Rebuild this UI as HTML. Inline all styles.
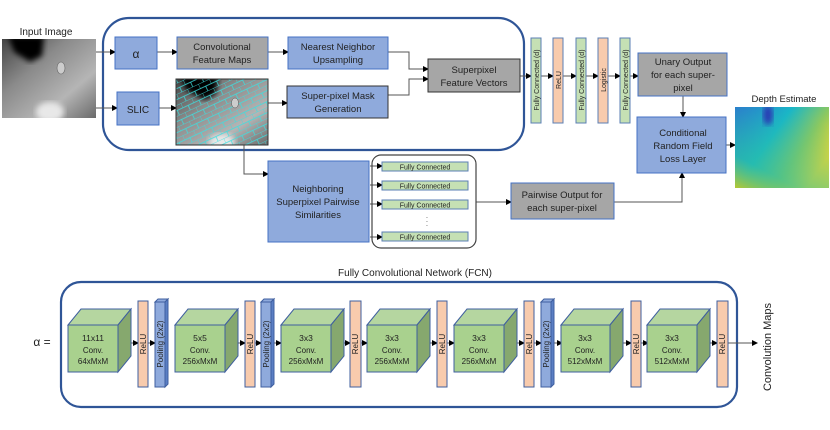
<!DOCTYPE html>
<html><head><meta charset="utf-8"><style>
html,body{margin:0;padding:0;background:#fff}
svg{display:block;font-family:"Liberation Sans",sans-serif}
</style></head><body>
<svg width="830" height="430" viewBox="0 0 830 430" xmlns="http://www.w3.org/2000/svg">
<defs>
<marker id="ah" markerWidth="6" markerHeight="6" refX="5" refY="3" orient="auto" markerUnits="userSpaceOnUse"><path d="M0,0 L6,3 L0,6z" fill="#000"/></marker>
<linearGradient id="gin" x1="0" y1="0" x2="1" y2="1"><stop offset="0" stop-color="#444"/><stop offset="0.35" stop-color="#8a8a8a"/><stop offset="0.7" stop-color="#b5b5b5"/><stop offset="1" stop-color="#6a6a6a"/></linearGradient>
<filter id="bl"><feGaussianBlur stdDeviation="3"/></filter>
<linearGradient id="gd" x1="0" y1="0" x2="1" y2="0.6"><stop offset="0" stop-color="#2a6cd8"/><stop offset="0.45" stop-color="#19b6c8"/><stop offset="0.75" stop-color="#8cc860"/><stop offset="1" stop-color="#f2d830"/></linearGradient>
<linearGradient id="gd2" x1="0" y1="1" x2="0.6" y2="0"><stop offset="0" stop-color="#b8c830"/><stop offset="0.3" stop-color="#2ec0a0" stop-opacity="0.6"/><stop offset="1" stop-color="#2ec0a0" stop-opacity="0"/></linearGradient>
<pattern id="sp" width="12" height="10" patternUnits="userSpaceOnUse" patternTransform="rotate(-25)"><path d="M0,0 H12 M0,0 V5 M6,5 V10 M0,5 H12" stroke="#3de0e0" stroke-width="0.7" fill="none"/></pattern>
<clipPath id="c1c"><rect x="2" y="39" width="94" height="79"/></clipPath>
<clipPath id="c2c"><rect x="176" y="79" width="92" height="66"/></clipPath>
<clipPath id="c3c"><rect x="735" y="107" width="94" height="81"/></clipPath>
</defs>

<!-- top group -->
<rect x="103" y="18" width="421" height="132" rx="26" fill="none" stroke="#2F5597" stroke-width="2.2"/>
<text x="46" y="35" font-size="10" text-anchor="middle" fill="#222">Input Image</text>
<g clip-path="url(#c1c)">
<rect x="2" y="39" width="94" height="79" fill="url(#gin)"/>
<path d="M8,36 L44,36 L42,56 L30,62 L14,52z" fill="#000" filter="url(#bl)"/>
<ellipse cx="50" cy="112" rx="14" ry="10" fill="#e8e8e8" filter="url(#bl)"/>
</g>
<ellipse cx="61" cy="68" rx="4" ry="6" fill="#ccc" stroke="#666" stroke-width="0.6"/>

<g stroke="#555" stroke-width="1" fill="none">
<line x1="96" y1="52" x2="115" y2="52" marker-end="url(#ah)"/>
<line x1="96" y1="108" x2="117" y2="108" marker-end="url(#ah)"/>
<line x1="157" y1="52" x2="177" y2="52" marker-end="url(#ah)"/>
<line x1="159" y1="108" x2="176" y2="108" marker-end="url(#ah)"/>
<line x1="268" y1="52" x2="288" y2="52" marker-end="url(#ah)"/>
<line x1="268" y1="103" x2="287" y2="103" marker-end="url(#ah)"/>
<polyline points="388,52 409,52 409,69 428,69" marker-end="url(#ah)"/>
<polyline points="388,95 409,95 409,79 428,79" marker-end="url(#ah)"/>
<line x1="520" y1="76" x2="531" y2="76" marker-end="url(#ah)"/>
<line x1="541" y1="76" x2="553" y2="76" marker-end="url(#ah)"/>
<line x1="563" y1="76" x2="576" y2="76" marker-end="url(#ah)"/>
<line x1="586" y1="76" x2="598" y2="76" marker-end="url(#ah)"/>
<line x1="608" y1="76" x2="620" y2="76" marker-end="url(#ah)"/>
<line x1="630" y1="76" x2="638" y2="76" marker-end="url(#ah)"/>
<line x1="683" y1="96" x2="683" y2="117" marker-end="url(#ah)"/>
<line x1="726" y1="145" x2="735" y2="145" marker-end="url(#ah)"/>
<polyline points="220,133 244,133 244,174 268,174" marker-end="url(#ah)"/>
<line x1="476" y1="202" x2="511" y2="202" marker-end="url(#ah)"/>
<polyline points="614,202 682,202 682,173" marker-end="url(#ah)"/>
<line x1="370" y1="166" x2="382" y2="166" marker-end="url(#ah)"/>
<line x1="370" y1="185" x2="382" y2="185" marker-end="url(#ah)"/>
<line x1="370" y1="204" x2="382" y2="204" marker-end="url(#ah)"/>
<line x1="370" y1="237" x2="382" y2="237" marker-end="url(#ah)"/>
</g>

<g font-size="9.5" text-anchor="middle" fill="#222">
<rect x="115" y="37" width="42" height="32" fill="#8FAADC" stroke="#4472C4"/>
<text x="136" y="58" font-size="12">α</text>
<rect x="177" y="37" width="91" height="32" fill="#A6A6A6" stroke="#4472C4"/>
<text x="222" y="50">Convolutional</text><text x="222" y="63">Feature Maps</text>
<rect x="288" y="37" width="100" height="32" fill="#8FAADC" stroke="#4472C4"/>
<text x="338" y="50">Nearest Neighbor</text><text x="338" y="63">Upsampling</text>
<rect x="117" y="92" width="42" height="33" fill="#8FAADC" stroke="#4472C4"/>
<text x="138" y="113" font-size="10">SLIC</text>
<rect x="287" y="86" width="101" height="32" fill="#8FAADC" stroke="#333"/>
<text x="338" y="99">Super-pixel Mask</text><text x="338" y="112">Generation</text>
<rect x="428" y="59" width="92" height="33" fill="#A6A6A6" stroke="#333"/>
<text x="474" y="73">Superpixel</text><text x="474" y="86">Feature Vectors</text>
<rect x="638" y="53" width="89" height="43" fill="#A6A6A6" stroke="#4472C4"/>
<text x="683" y="65">Unary Output</text><text x="683" y="78">for each super-</text><text x="683" y="91">pixel</text>
<rect x="637" y="117" width="89" height="56" fill="#8FAADC" stroke="#4472C4"/>
<text x="683" y="136">Conditional</text><text x="683" y="149">Random Field</text><text x="683" y="162">Loss Layer</text>
<text x="784" y="102">Depth Estimate</text>
<rect x="268" y="161" width="101" height="81" fill="#8FAADC" stroke="#4472C4"/>
<text x="318" y="192">Neighboring</text><text x="318" y="205">Superpixel Pairwise</text><text x="318" y="218">Similarities</text>
<rect x="511" y="183" width="103" height="36" fill="#A6A6A6" stroke="#4472C4"/>
<text x="562" y="198">Pairwise Output for</text><text x="562" y="211">each super-pixel</text>
</g>

<!-- superpixel image -->
<g clip-path="url(#c2c)">
<rect x="176" y="79" width="92" height="66" fill="url(#gin)"/>
<path d="M180,76 L218,76 L216,94 L205,100 L186,90z" fill="#000" filter="url(#bl)"/>
<ellipse cx="222" cy="142" rx="13" ry="8" fill="#e8e8e8" filter="url(#bl)"/>
<rect x="176" y="79" width="92" height="66" fill="url(#sp)"/>
</g>
<rect x="176" y="79" width="92" height="66" fill="none" stroke="#333"/>
<ellipse cx="235" cy="103" rx="3.5" ry="5" fill="#ccc" stroke="#555" stroke-width="0.5"/>

<!-- depth -->
<g clip-path="url(#c3c)">
<rect x="735" y="107" width="94" height="81" fill="url(#gd)"/>
<rect x="735" y="107" width="94" height="81" fill="url(#gd2)"/>
<ellipse cx="768" cy="115" rx="5" ry="10" fill="#2a2ab0" opacity="0.85" filter="url(#bl)"/>
</g>

<!-- FC vertical bars -->
<g font-size="7" fill="#222" text-anchor="middle">
<rect x="531" y="38" width="10" height="85" fill="#C5E0B4" stroke="#5B7FB5"/>
<rect x="553" y="38" width="10" height="85" fill="#F8CBAD" stroke="#5B7FB5"/>
<rect x="576" y="38" width="10" height="85" fill="#C5E0B4" stroke="#5B7FB5"/>
<rect x="598" y="38" width="10" height="85" fill="#F8CBAD" stroke="#5B7FB5"/>
<rect x="620" y="38" width="10" height="85" fill="#C5E0B4" stroke="#5B7FB5"/>
<text transform="translate(539,80) rotate(-90)">Fully Connected (d)</text>
<text transform="translate(561,80) rotate(-90)">ReLU</text>
<text transform="translate(584,80) rotate(-90)">Fully Connected (d)</text>
<text transform="translate(606,80) rotate(-90)">Logistic</text>
<text transform="translate(628,80) rotate(-90)">Fully Connected (d)</text>
</g>

<!-- FC group -->
<rect x="372" y="155" width="104" height="93" rx="9" fill="none" stroke="#444" stroke-width="1.2"/>
<g font-size="7" fill="#222" text-anchor="middle">
<rect x="382" y="162" width="86" height="9" fill="#C5E0B4" stroke="#5B7FB5"/><text x="425" y="169.5">Fully Connected</text>
<rect x="382" y="181" width="86" height="9" fill="#C5E0B4" stroke="#5B7FB5"/><text x="425" y="188.5">Fully Connected</text>
<rect x="382" y="200" width="86" height="9" fill="#C5E0B4" stroke="#5B7FB5"/><text x="425" y="207.5">Fully Connected</text>
<text x="427" y="218" font-size="7">.</text><text x="427" y="222" font-size="7">.</text><text x="427" y="226" font-size="7">.</text>
<rect x="382" y="232" width="86" height="9" fill="#C5E0B4" stroke="#5B7FB5"/><text x="425" y="239.5">Fully Connected</text>
</g>

<!-- bottom FCN -->
<text x="415" y="276" font-size="10" text-anchor="middle" fill="#222">Fully Convolutional Network (FCN)</text>
<rect x="61" y="282" width="676" height="125" rx="20" fill="none" stroke="#2F5597" stroke-width="2.2"/>
<text x="42" y="346" font-size="12" text-anchor="middle" fill="#222">α =</text>

<g stroke="#555" stroke-width="1" fill="none">
<line x1="131" y1="343" x2="138" y2="343" marker-end="url(#ah)"/>
<line x1="148" y1="343" x2="155" y2="343" marker-end="url(#ah)"/>
<line x1="238" y1="343" x2="245" y2="343" marker-end="url(#ah)"/>
<line x1="255" y1="343" x2="261" y2="343" marker-end="url(#ah)"/>
<line x1="271" y1="343" x2="281" y2="343" marker-end="url(#ah)"/>
<line x1="344" y1="343" x2="350" y2="343" marker-end="url(#ah)"/>
<line x1="361" y1="343" x2="367" y2="343" marker-end="url(#ah)"/>
<line x1="430" y1="343" x2="437" y2="343" marker-end="url(#ah)"/>
<line x1="447" y1="343" x2="454" y2="343" marker-end="url(#ah)"/>
<line x1="517" y1="343" x2="524" y2="343" marker-end="url(#ah)"/>
<line x1="534" y1="343" x2="541" y2="343" marker-end="url(#ah)"/>
<line x1="554" y1="343" x2="562" y2="343" marker-end="url(#ah)"/>
<line x1="623" y1="343" x2="631" y2="343" marker-end="url(#ah)"/>
<line x1="641" y1="343" x2="648" y2="343" marker-end="url(#ah)"/>
<line x1="710" y1="343" x2="717" y2="343" marker-end="url(#ah)"/>
<line x1="728" y1="343" x2="757" y2="343" marker-end="url(#ah)"/>
</g>
<text transform="translate(771,347) rotate(-90)" font-size="11" text-anchor="middle" fill="#222">Convolution Maps</text>

<g stroke="#3F5F9F" stroke-width="1">
<polygon points="68,325 81,309 131,309 118,325" fill="#B5D6A0"/><polygon points="118,325 131,309 131,356 118,372" fill="#86A86E"/><rect x="68" y="325" width="50" height="47" fill="#A9D18E"/>
<polygon points="175,325 188,309 238,309 225,325" fill="#B5D6A0"/><polygon points="225,325 238,309 238,356 225,372" fill="#86A86E"/><rect x="175" y="325" width="50" height="47" fill="#A9D18E"/>
<polygon points="281,325 294,309 344,309 331,325" fill="#B5D6A0"/><polygon points="331,325 344,309 344,356 331,372" fill="#86A86E"/><rect x="281" y="325" width="50" height="47" fill="#A9D18E"/>
<polygon points="367,325 380,309 430,309 417,325" fill="#B5D6A0"/><polygon points="417,325 430,309 430,356 417,372" fill="#86A86E"/><rect x="367" y="325" width="50" height="47" fill="#A9D18E"/>
<polygon points="454,325 467,309 517,309 504,325" fill="#B5D6A0"/><polygon points="504,325 517,309 517,356 504,372" fill="#86A86E"/><rect x="454" y="325" width="50" height="47" fill="#A9D18E"/>
<polygon points="561,325 574,309 623,309 610,325" fill="#B5D6A0"/><polygon points="610,325 623,309 623,356 610,372" fill="#86A86E"/><rect x="561" y="325" width="49" height="47" fill="#A9D18E"/>
<polygon points="647,325 660,309 710,309 697,325" fill="#B5D6A0"/><polygon points="697,325 710,309 710,356 697,372" fill="#86A86E"/><rect x="647" y="325" width="50" height="47" fill="#A9D18E"/>
<rect x="138" y="301" width="10" height="86" fill="#F8CBAD"/>
<rect x="245" y="301" width="10" height="86" fill="#F8CBAD"/>
<rect x="350" y="301" width="11" height="86" fill="#F8CBAD"/>
<rect x="437" y="301" width="10" height="86" fill="#F8CBAD"/>
<rect x="524" y="301" width="10" height="86" fill="#F8CBAD"/>
<rect x="631" y="301" width="10" height="86" fill="#F8CBAD"/>
<rect x="717" y="301" width="11" height="86" fill="#F8CBAD"/>
<polygon points="155,302 158,299 168,299 165,302" fill="#8FAADC"/><polygon points="165,302 168,299 168,384 165,387" fill="#5B7FC4"/><rect x="155" y="302" width="10" height="85" fill="#8FAADC"/>
<polygon points="261,302 264,299 274,299 271,302" fill="#8FAADC"/><polygon points="271,302 274,299 274,384 271,387" fill="#5B7FC4"/><rect x="261" y="302" width="10" height="85" fill="#8FAADC"/>
<polygon points="541,302 544,299 554,299 551,302" fill="#8FAADC"/><polygon points="551,302 554,299 554,384 551,387" fill="#5B7FC4"/><rect x="541" y="302" width="10" height="85" fill="#8FAADC"/>
</g>

<g font-size="8" fill="#222" text-anchor="middle">
<text x="93" y="341" font-size="8.5">11x11</text><text x="93" y="353">Conv.</text><text x="93" y="364">64xMxM</text>
<text x="200" y="341" font-size="8.5">5x5</text><text x="200" y="353">Conv.</text><text x="200" y="364">256xMxM</text>
<text x="306" y="341" font-size="8.5">3x3</text><text x="306" y="353">Conv.</text><text x="306" y="364">256xMxM</text>
<text x="392" y="341" font-size="8.5">3x3</text><text x="392" y="353">Conv.</text><text x="392" y="364">256xMxM</text>
<text x="479" y="341" font-size="8.5">3x3</text><text x="479" y="353">Conv.</text><text x="479" y="364">256xMxM</text>
<text x="585" y="341" font-size="8.5">3x3</text><text x="585" y="353">Conv.</text><text x="585" y="364">512xMxM</text>
<text x="672" y="341" font-size="8.5">3x3</text><text x="672" y="353">Conv.</text><text x="672" y="364">512xMxM</text>
<text transform="translate(146,344) rotate(-90)">ReLU</text>
<text transform="translate(253,344) rotate(-90)">ReLU</text>
<text transform="translate(358,344) rotate(-90)">ReLU</text>
<text transform="translate(445,344) rotate(-90)">ReLU</text>
<text transform="translate(532,344) rotate(-90)">ReLU</text>
<text transform="translate(639,344) rotate(-90)">ReLU</text>
<text transform="translate(725,344) rotate(-90)">ReLU</text>
<text transform="translate(163,344) rotate(-90)">Pooling (2x2)</text>
<text transform="translate(269,344) rotate(-90)">Pooling (2x2)</text>
<text transform="translate(549,344) rotate(-90)">Pooling (2x2)</text>
</g>
</svg>
</body></html>
